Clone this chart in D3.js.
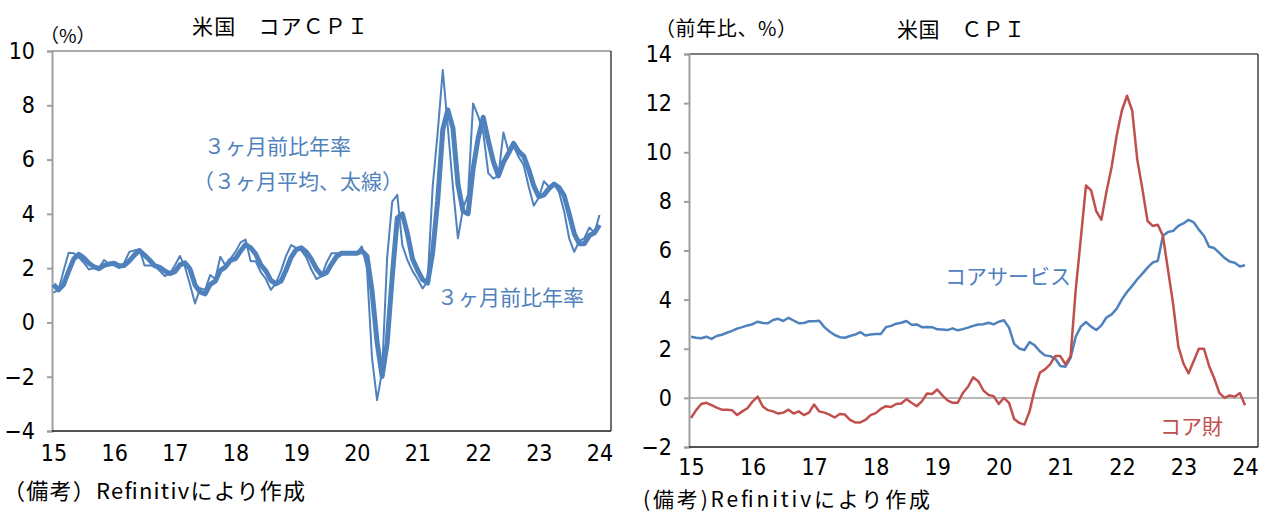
<!DOCTYPE html>
<html>
<head>
<meta charset="utf-8">
<script src="https://cdn.jsdelivr.net/npm/d3@7"></script>
<style>
  body { margin: 0; background: #fff; }
  text { font-family: 'Noto Sans CJK JP', sans-serif; }
  .axis .tick text { font-family: 'Liberation Sans Narrow', 'DejaVu Sans Condensed', 'Liberation Sans', sans-serif; font-size: 23px; fill: #000; }
</style>
</head>
<body>
<svg id="chart" width="1269" height="515"></svg>
<script>
// year labels on the x axis (Jan of each year)
let yearLabels = ['15', '16', '17', '18', '19', '20', '21', '22', '23', '24']

let leftTicks = [-4, -2, 0, 2, 4, 6, 8, 10]
let rightTicks = [-2, 0, 2, 4, 6, 8, 10, 12, 14]

// left: core CPI, 3-month annualized (thin), Jan 2015 - Jan 2024
let core3m = [
  1.1, 1.2, 1.9, 2.57, 2.55, 2.4, 2.2, 1.95, 2.0, 2.0, 2.3, 2.15,
  2.1, 2.0, 2.2, 2.6, 2.65, 2.7, 2.1, 2.1, 2.08, 1.9, 1.71, 1.8,
  2.1, 2.45, 2.05, 1.4, 0.7, 1.26, 1.2, 1.75, 1.6, 2.42, 2.1, 2.35,
  2.6, 2.95, 3.05, 2.25, 2.25, 1.85, 1.6, 1.2, 1.45, 1.9, 2.45, 2.85,
  2.75, 2.65, 2.4, 1.95, 1.6, 1.7, 2.2, 2.55, 2.55, 2.55, 2.55, 2.55,
  2.55, 2.8, 2.0, -1.3, -2.86, -1.8, 2.4, 4.45, 4.7, 2.85, 2.3, 1.9,
  1.6, 1.25, 1.5, 5.0, 7.0, 9.3, 7.2, 5.0, 3.1, 4.2, 4.7, 8.07,
  7.6, 7.0, 5.5, 5.3, 5.4, 7.0, 6.3, 6.5, 6.1, 5.8, 5.0, 4.3,
  4.6, 5.2, 5.0, 5.1, 4.8, 4.1, 3.1, 2.6, 3.0, 3.1, 3.5, 3.3,
  3.96
]

// left: 3-month average of the above (thick)
let core3mAvg = [
  1.4, 1.2, 1.4, 1.89, 2.34, 2.51, 2.38, 2.18, 2.05, 1.98, 2.1, 2.15,
  2.18, 2.08, 2.1, 2.27, 2.48, 2.65, 2.48, 2.3, 2.09, 2.03, 1.9, 1.8,
  1.87, 2.12, 2.2, 1.97, 1.38, 1.12, 1.05, 1.4, 1.52, 1.92, 2.04, 2.29,
  2.35, 2.63, 2.87, 2.75, 2.52, 2.12, 1.9, 1.55, 1.42, 1.52, 1.93, 2.4,
  2.68, 2.75, 2.6, 2.33, 1.98, 1.75, 1.83, 2.15, 2.43, 2.55, 2.55, 2.55,
  2.55, 2.63, 2.45, 1.17, -0.72, -1.99, -0.75, 1.68, 3.85, 4.0, 3.28, 2.35,
  1.93, 1.58, 1.45, 2.58, 4.5, 7.1, 7.83, 7.17, 5.1, 4.1, 4.0, 5.66,
  6.79, 7.56, 6.7, 5.93, 5.4, 5.9, 6.23, 6.6, 6.3, 6.13, 5.63, 5.03,
  4.63, 4.7, 4.93, 5.1, 4.97, 4.67, 4.0, 3.27, 2.9, 2.9, 3.2, 3.3,
  3.59
]

// right: core services, y/y %
let coreServices = [
  2.49, 2.45, 2.43, 2.49, 2.4, 2.52, 2.57, 2.65, 2.73, 2.82, 2.88, 2.95,
  3.0, 3.1, 3.05, 3.04, 3.17, 3.22, 3.13, 3.26, 3.15, 3.04, 3.05, 3.12,
  3.12, 3.14, 2.88, 2.7, 2.56, 2.47, 2.45, 2.52, 2.58, 2.68, 2.54, 2.58,
  2.6, 2.6, 2.88, 2.93, 3.02, 3.06, 3.13, 2.98, 2.99, 2.88, 2.89, 2.88,
  2.79, 2.78, 2.76, 2.83, 2.75, 2.8, 2.86, 2.93, 2.99, 3.0, 3.06, 2.99,
  3.1, 3.16, 2.86, 2.2, 2.01, 1.95, 2.27, 2.14, 1.9, 1.73, 1.7, 1.6,
  1.3, 1.27, 1.63, 2.49, 2.9, 3.09, 2.9, 2.76, 2.95, 3.27, 3.4, 3.63,
  4.01, 4.31, 4.56, 4.83, 5.06, 5.3, 5.51, 5.58, 6.6, 6.75, 6.8, 7.0,
  7.1, 7.25, 7.15, 6.85, 6.6, 6.15, 6.1, 5.9, 5.7, 5.55, 5.5, 5.35,
  5.4
]

// right: core goods, y/y %
let coreGoods = [
  -0.82, -0.5, -0.25, -0.2, -0.3, -0.4, -0.48, -0.48, -0.5, -0.7, -0.55, -0.42,
  -0.15, 0.05, -0.35, -0.5, -0.55, -0.64, -0.6, -0.48, -0.64, -0.55, -0.7, -0.6,
  -0.27, -0.55, -0.6, -0.68, -0.8, -0.66, -0.68, -0.9, -1.0, -1.0, -0.9, -0.7,
  -0.62, -0.45, -0.34, -0.37, -0.25, -0.23, -0.05, -0.2, -0.34, -0.14, 0.18, 0.16,
  0.34, 0.1, -0.1, -0.2, -0.2, 0.2, 0.45, 0.84, 0.68, 0.3, 0.12, 0.07,
  -0.25, 0.0, -0.2, -0.86, -1.02, -1.09, -0.55, 0.34, 1.02, 1.16, 1.36, 1.7,
  1.7, 1.36, 1.7, 4.4, 6.5, 8.65, 8.45, 7.6, 7.25, 8.4, 9.4, 10.7,
  11.7, 12.3, 11.7, 9.7, 8.5, 7.2, 7.0, 7.05, 6.6, 5.2, 3.8, 2.1,
  1.4, 1.0, 1.5, 2.0, 2.0, 1.3, 0.8, 0.2, 0.0, 0.1, 0.05, 0.2,
  -0.3
]

let blue = '#4f81bd'
let red = '#c0504d'

let svg = d3.select('#chart')

function panel(box, xRange, yDomain, yTicks, topColor, padX) {
  let g = svg.append('g')

  let x = d3.scaleLinear().domain([0, 108]).range(xRange)
  let y = d3.scaleLinear().domain(yDomain).range([box.bottom, box.top])

  // frame: top, right
  g.append('line')
    .attr('x1', box.left).attr('x2', box.right)
    .attr('y1', box.top).attr('y2', box.top)
    .attr('stroke', topColor).attr('stroke-width', 1.5)
  g.append('line')
    .attr('x1', box.right).attr('x2', box.right)
    .attr('y1', box.top).attr('y2', box.bottom)
    .attr('stroke', '#404040').attr('stroke-width', 1.5)

  let yAxis = d3.axisLeft(y).tickValues(yTicks).tickSize(5).tickPadding(12).tickFormat(d3.format('d'))
  g.append('g')
    .attr('class', 'axis')
    .attr('transform', 'translate(' + box.left + ',0)')
    .call(yAxis)
    .call(a => a.selectAll('path, line').attr('stroke', '#a0a0a0').attr('stroke-width', 2))

  let xAxis = d3.axisBottom(x)
    .tickValues(yearLabels.map((d, i) => i * 12))
    .tickSize(0)
    .tickPadding(padX)
    .tickFormat((d, i) => yearLabels[i])
  g.append('g')
    .attr('class', 'axis')
    .attr('transform', 'translate(0,' + box.bottom + ')')
    .call(xAxis)
    .call(a => a.select('.domain').remove())
  g.append('line')
    .attr('x1', box.left).attr('x2', box.right)
    .attr('y1', box.bottom).attr('y2', box.bottom)
    .attr('stroke', '#1a1a1a').attr('stroke-width', 1.5)

  return { g: g, x: x, y: y }
}

function drawLine(p, values, color, width) {
  let line = d3.line()
    .x((d, i) => p.x(i))
    .y(d => p.y(d))
  p.g.append('path')
    .datum(values)
    .attr('fill', 'none')
    .attr('stroke', color)
    .attr('stroke-width', width)
    .attr('stroke-linejoin', 'round')
    .attr('d', line)
}

function label(x, y, str, size, color, len) {
  let t = svg.append('text')
    .attr('x', x).attr('y', y)
    .attr('font-size', size)
    .attr('fill', color || '#000')
    .text(str)
  if (len) t.attr('textLength', len).attr('lengthAdjust', 'spacing')
  return t
}

// ---- left chart
let left = panel({ left: 52, right: 611, top: 51, bottom: 431 }, [53.5, 599.5], [-4, 10], leftTicks, '#8c8c8c', 14)
drawLine(left, core3mAvg, blue, 5)
drawLine(left, core3m, blue, 2)

label(192, 34, '米国　コアＣＰＩ', 21, '#000', 176)
label(40, 43, '（%）', 19)
label(204, 154, '３ヶ月前比年率', 21, blue)
label(193, 189, '（３ヶ月平均、太線）', 21, blue)
label(437, 305, '３ヶ月前比年率', 21, blue)
label(3, 499, '（備考）Refinitivにより作成', 22, '#000', 302)

// ---- right chart
let right = panel({ left: 689, right: 1258, top: 54, bottom: 447 }, [691, 1245], [-2, 14], rightTicks, '#505050', 12)

right.g.append('line')
  .attr('x1', 689).attr('x2', 1258)
  .attr('y1', right.y(0)).attr('y2', right.y(0))
  .attr('stroke', '#a0a0a0').attr('stroke-width', 1.5)

drawLine(right, coreServices, blue, 2.5)
drawLine(right, coreGoods, red, 2.5)

label(897, 37, '米国　ＣＰＩ', 21, '#000', 128)
label(655, 36, '（前年比、%）', 20, '#000', 142)
label(945, 284, 'コアサービス', 21, blue)
label(1160, 434, 'コア財', 21, red)
label(643, 507, '(備考)Refinitivにより作成', 21, '#000', 287)
</script>
</body>
</html>
